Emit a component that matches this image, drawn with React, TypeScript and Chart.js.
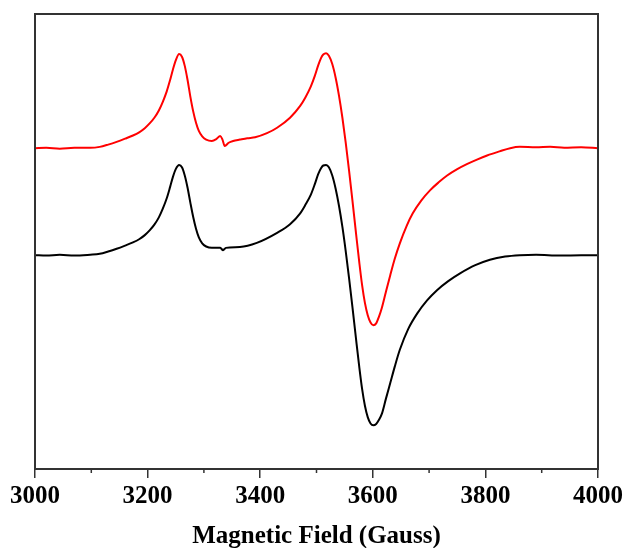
import React, { useEffect, useRef } from "react";
import { Chart, registerables } from "chart.js";

Chart.register(...registerables);

// Magnetic field (Gauss) and EPR signal (arbitrary units)
const redField = [
  3000, 3020, 3044, 3070, 3098, 3115, 3130, 3145, 3160, 3174, 3185, 3195, 3204, 3212, 3220,
  3227, 3234, 3240, 3245, 3250, 3256, 3261, 3266, 3271, 3276, 3281, 3286, 3291, 3297, 3304,
  3314, 3322, 3329, 3333, 3337, 3344, 3352, 3364, 3377, 3391, 3412, 3430, 3453, 3471, 3480,
  3490, 3497, 3503, 3508, 3512, 3517, 3522, 3528, 3534, 3540, 3546, 3552, 3558, 3564, 3570,
  3576, 3581, 3586, 3591, 3596, 3601, 3606, 3611, 3616, 3623, 3631, 3639, 3648, 3660, 3671,
  3686, 3702, 3717, 3732, 3750, 3767, 3785, 3803, 3825, 3844, 3861, 3890, 3915, 3940, 3970,
  4000,
];
const redSignal = [
  70.5, 70.6, 70.4, 70.6, 70.6, 70.8, 71.3, 71.9, 72.6, 73.3, 74.0, 74.9, 76.0, 77.2, 78.8,
  80.7, 83.0, 85.5, 87.8, 89.8, 91.2, 90.6, 88.6, 85.5, 81.8, 78.6, 76.1, 74.3, 73.1, 72.4,
  72.1, 72.5, 73.2, 72.4, 71.0, 71.7, 72.1, 72.4, 72.7, 72.9, 73.8, 75.0, 77.2, 79.8, 81.6,
  84.1, 86.4, 88.7, 90.3, 91.1, 91.4, 90.8, 89.0, 86.0, 82.0, 77.2, 71.6, 65.4, 58.8, 52.0,
  45.4, 40.4, 36.5, 33.8, 32.2, 31.6, 32.0, 33.5, 35.4, 38.8, 42.6, 46.2, 49.6, 53.4, 56.2,
  59.0, 61.3, 63.0, 64.5, 65.9, 67.0, 68.0, 68.9, 69.8, 70.5, 70.8, 70.7, 70.8, 70.6, 70.7,
  70.5,
];

const blackField = [
  3000, 3020, 3044, 3070, 3098, 3115, 3130, 3145, 3160, 3174, 3185, 3195, 3204, 3212, 3220,
  3227, 3234, 3240, 3245, 3250, 3256, 3261, 3266, 3271, 3276, 3281, 3286, 3291, 3297, 3304,
  3314, 3329, 3334, 3339, 3364, 3394, 3430, 3453, 3471, 3480, 3490, 3497, 3503, 3508, 3512,
  3517, 3522, 3528, 3534, 3540, 3546, 3552, 3558, 3564, 3570, 3576, 3581, 3586, 3591, 3596,
  3601, 3606, 3611, 3616, 3623, 3631, 3639, 3648, 3663, 3679, 3696, 3714, 3734, 3755, 3782,
  3808, 3835, 3861, 3890, 3933, 3970, 4000,
];
const blackSignal = [
  47.0, 46.9, 47.1, 46.9, 47.1, 47.3, 47.8, 48.4, 49.1, 49.8, 50.5, 51.4, 52.5, 53.7, 55.3,
  57.2, 59.5, 62.0, 64.2, 65.9, 66.8, 66.3, 64.5, 61.8, 58.5, 55.4, 52.8, 50.9, 49.6, 48.9,
  48.6, 48.6, 48.1, 48.6, 48.8, 49.7, 51.9, 53.8, 56.2, 58.0, 60.3, 62.6, 64.8, 66.1, 66.7,
  66.8, 66.3, 64.5, 61.6, 57.8, 53.2, 47.8, 41.8, 35.4, 28.8, 22.4, 17.6, 13.9, 11.4, 10.0,
  9.6, 9.9, 10.8, 12.1, 15.3, 18.9, 22.5, 26.2, 30.8, 34.2, 37.0, 39.3, 41.3, 43.0, 44.8,
  46.0, 46.7, 47.0, 47.1, 46.9, 47.0, 47.0,
];

const xMin = 3000;
const xMax = 4000;
const majorStep = 200;
const minorTicks = [3100, 3300, 3500, 3700, 3900];
const xTitle = "Magnetic Field (Gauss)";

const FONT = "'Liberation Serif', 'Times New Roman', serif";

const framePlugin = {
  id: "frame",
  afterDraw(chart: any) {
    const { ctx, chartArea, scales } = chart;
    const { left, right, top, bottom } = chartArea;
    ctx.save();
    ctx.strokeStyle = "#333";
    ctx.lineWidth = 2;
    ctx.strokeRect(left, top, right - left, bottom - top);
    ctx.lineWidth = 1.5;
    for (const v of minorTicks) {
      const px = scales.x.getPixelForValue(v);
      ctx.beginPath();
      ctx.moveTo(px, bottom);
      ctx.lineTo(px, bottom + 4);
      ctx.stroke();
    }
    ctx.restore();
  },
};

export default function App() {
  const ref = useRef<HTMLCanvasElement | null>(null);

  useEffect(() => {
    if (!ref.current) return;
    const chart = new Chart(ref.current, {
      type: "line",
      data: {
        datasets: [
          {
            label: "red",
            data: redField.map((x, i) => ({ x, y: redSignal[i] })),
            borderColor: "#ff0000",
            borderWidth: 2,
            pointRadius: 0,
            cubicInterpolationMode: "monotone",
          },
          {
            label: "black",
            data: blackField.map((x, i) => ({ x, y: blackSignal[i] })),
            borderColor: "#000000",
            borderWidth: 2,
            pointRadius: 0,
            cubicInterpolationMode: "monotone",
          },
        ],
      },
      options: {
        animation: false,
        responsive: true,
        maintainAspectRatio: false,
        layout: { padding: { left: 35, right: 26, top: 14, bottom: -4 } },
        plugins: { legend: { display: false }, tooltip: { enabled: false } },
        scales: {
          x: {
            type: "linear",
            min: xMin,
            max: xMax,
            afterFit: (scale: any) => {
              scale.paddingLeft = 0;
              scale.paddingRight = 0;
            },
            border: { display: true, color: "#333", width: 2 },
            grid: {
              drawOnChartArea: false,
              drawTicks: true,
              tickLength: 9,
              color: "#333",
              lineWidth: 1.5,
            },
            ticks: {
              stepSize: majorStep,
              color: "#000",
              padding: 4,
              maxRotation: 0,
              font: { family: FONT, size: 25, weight: "bold" },
              callback: (v: any) => String(v),
            },
            title: {
              display: true,
              text: xTitle,
              color: "#000",
              font: { family: FONT, size: 25, weight: "bold" },
              padding: { top: 6, bottom: 0 },
            },
          },
          y: { display: false, min: 0, max: 100 },
        },
      },
      plugins: [framePlugin],
    } as any);
    return () => chart.destroy();
  }, []);

  return (
    <div style={{ position: "absolute", left: 0, top: 0, width: 624, height: 548 }}>
      <canvas ref={ref} />
    </div>
  );
}
